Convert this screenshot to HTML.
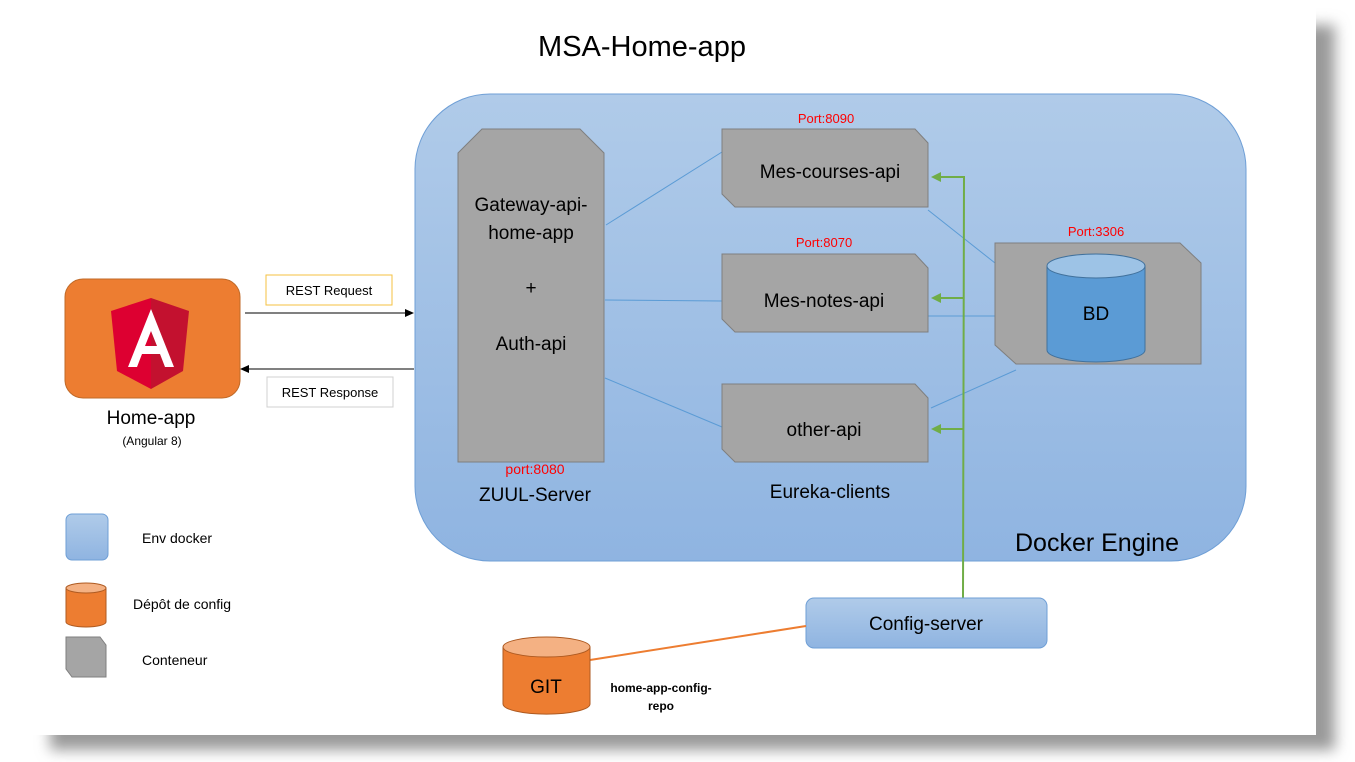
<!DOCTYPE html>
<html><head><meta charset="utf-8"><style>
html,body{margin:0;padding:0;background:#fff;}
svg{display:block;font-family:"Liberation Sans",sans-serif;}
</style></head><body>
<svg width="1355" height="762" viewBox="0 0 1355 762" xmlns="http://www.w3.org/2000/svg">
<defs>
<linearGradient id="dk" x1="0" y1="0" x2="0" y2="1"><stop offset="0" stop-color="#b0cbe9"/><stop offset="1" stop-color="#8fb4e1"/></linearGradient>
<filter id="bl" x="-10%" y="-10%" width="120%" height="120%"><feGaussianBlur stdDeviation="7"/></filter>
</defs>
<rect x="50" y="25" width="1285" height="725" fill="#9a9a9a" filter="url(#bl)"/>
<rect x="0" y="0" width="1316" height="735" fill="#fff"/>
<text x="642" y="56" font-size="29" text-anchor="middle" fill="#000">MSA-Home-app</text>
<rect x="415" y="94" width="831" height="467" rx="75" fill="url(#dk)" stroke="#6f9fd6" stroke-width="1"/>
<text x="1097" y="551" font-size="25" text-anchor="middle">Docker Engine</text>
<g stroke="#5b9bd5" stroke-width="1" fill="none">
<line x1="606" y1="225" x2="722" y2="152"/><line x1="605" y1="300" x2="722" y2="301"/><line x1="605" y1="378" x2="722" y2="427"/>
<line x1="928" y1="210" x2="995" y2="263"/><line x1="928" y1="316" x2="995" y2="316"/><line x1="931" y1="408" x2="1016" y2="370"/>
</g>
<polygon points="458,153 482,129 580,129 604,153 604,462 458,462" fill="#a5a5a5" stroke="#7f7f7f"/>
<g font-size="19" text-anchor="middle" fill="#000">
<text x="531" y="211">Gateway-api-</text><text x="531" y="239">home-app</text>
<text x="531" y="294">+</text><text x="531" y="350">Auth-api</text>
</g>
<text x="535" y="474" font-size="14" fill="#f00" text-anchor="middle">port:8080</text>
<text x="535" y="501" font-size="19" text-anchor="middle">ZUUL-Server</text>
<g fill="#a5a5a5" stroke="#7f7f7f">
<polygon points="722,129 915,129 928,143 928,207 735,207 722,194"/>
<polygon points="722,254 915,254 928,268 928,332 735,332 722,319"/>
<polygon points="722,384 915,384 928,398 928,462 735,462 722,449"/>
<polygon points="995,243 1180,243 1201,263 1201,364 1016,364 995,345"/>
</g>
<g font-size="19" text-anchor="middle">
<text x="830" y="178">Mes-courses-api</text><text x="824" y="307">Mes-notes-api</text><text x="824" y="436">other-api</text>
<text x="830" y="498">Eureka-clients</text>
</g>
<g font-size="13" fill="#f00" text-anchor="middle">
<text x="826" y="123">Port:8090</text><text x="824" y="247">Port:8070</text><text x="1096" y="236">Port:3306</text>
</g>
<path d="M1047,266 V350 A49,12 0 0 0 1145,350 V266" fill="#5b9bd5" stroke="#41719c"/>
<ellipse cx="1096" cy="266" rx="49" ry="12" fill="#9dc3e6" stroke="#41719c"/>
<text x="1096" y="320" font-size="19" text-anchor="middle">BD</text>
<g stroke="#70ad47" stroke-width="2" fill="none">
<polyline points="963,598 964,177 940,177"/><line x1="964" y1="298" x2="940" y2="298"/><line x1="964" y1="429" x2="940" y2="429"/>
</g>
<g fill="#70ad47"><polygon points="931,177 941,172 941,182"/><polygon points="931,298 941,293 941,303"/><polygon points="931,429 941,424 941,434"/></g>
<rect x="806" y="598" width="241" height="50" rx="8" fill="url(#dk)" stroke="#6f9fd6"/>
<text x="926" y="630" font-size="19" text-anchor="middle">Config-server</text>
<line x1="590" y1="660" x2="806" y2="626" stroke="#ed7d31" stroke-width="2"/>
<path d="M503,647 V704 A43,10 0 0 0 590,704 V647" fill="#ed7d31" stroke="#ae5a21"/>
<ellipse cx="546.5" cy="647" rx="43.5" ry="10" fill="#f4b183" stroke="#ae5a21"/>
<text x="546" y="693" font-size="19" text-anchor="middle">GIT</text>
<g font-size="12" font-weight="bold" text-anchor="middle"><text x="661" y="692">home-app-config-</text><text x="661" y="710">repo</text></g>
<rect x="65" y="279" width="175" height="119" rx="18" fill="#ed7d31" stroke="#c06a28"/>
<polygon points="151,298 189,311 183,371 151,389" fill="#c3112f"/>
<polygon points="151,298 111,311 117,371 151,389" fill="#dd0031"/>
<path d="M151,309 L128,367 H137 L142,354 H160 L165,367 H174 Z M145,346 L151,331 L157,346 Z" fill="#fff"/>
<text x="151" y="424" font-size="19" text-anchor="middle">Home-app</text>
<text x="152" y="445" font-size="12" text-anchor="middle">(Angular 8)</text>
<line x1="245" y1="313" x2="405" y2="313" stroke="#000"/><polygon points="414,313 405,309 405,317"/>
<line x1="414" y1="369" x2="249" y2="369" stroke="#000"/><polygon points="240,369 249,365 249,373"/>
<rect x="266" y="275" width="126" height="30" fill="#fff" stroke="#f5c242"/>
<text x="329" y="295" font-size="13" text-anchor="middle">REST Request</text>
<rect x="267" y="377" width="126" height="30" fill="#fff" stroke="#d0d0d0"/>
<text x="330" y="397" font-size="13" text-anchor="middle">REST Response</text>
<rect x="66" y="514" width="42" height="46" rx="6" fill="url(#dk)" stroke="#6f9fd6"/>
<text x="142" y="543" font-size="14">Env docker</text>
<path d="M66,588 V622 A20,5 0 0 0 106,622 V588" fill="#ed7d31" stroke="#ae5a21"/>
<ellipse cx="86" cy="588" rx="20" ry="5" fill="#f4b183" stroke="#ae5a21"/>
<text x="133" y="609" font-size="14">Dépôt de config</text>
<polygon points="66,637 100,637 106,645 106,677 72,677 66,669" fill="#a5a5a5" stroke="#7f7f7f"/>
<text x="142" y="665" font-size="14">Conteneur</text>
</svg>
</body></html>
